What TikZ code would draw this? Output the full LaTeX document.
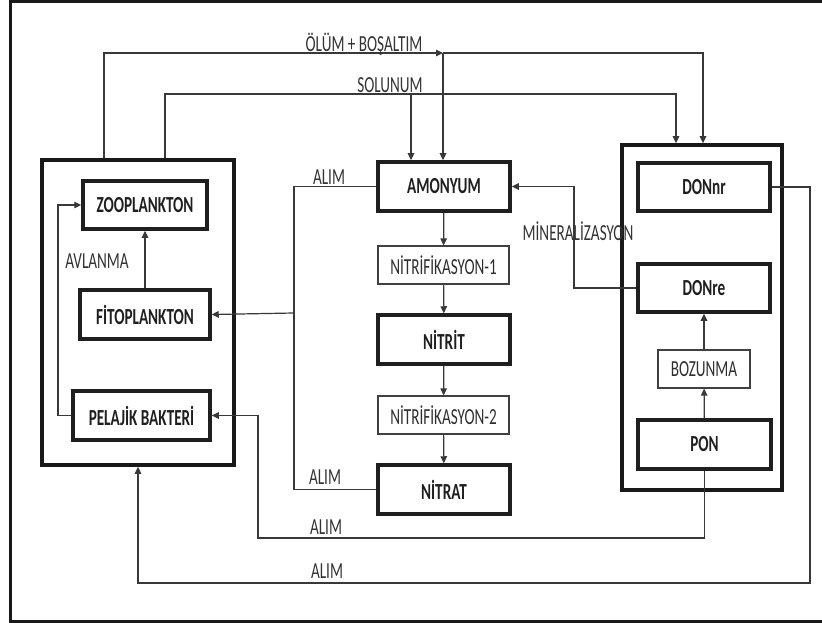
\documentclass[tikz,border=0pt]{standalone}
\usepackage{fontspec}
\setmainfont{Carlito}[FakeStretch=0.66]
\usetikzlibrary{arrows.meta,calc}
\begin{document}
\begin{tikzpicture}[x=1pt,y=-1pt,
  thickbox/.style={draw=black!88,line width=3.5pt,inner sep=0pt,font=\fontsize{23}{26}\selectfont\bfseries,text=black!88},
  thinbox/.style={draw=black!75,line width=1.1pt,inner sep=0pt,font=\fontsize{23}{26}\selectfont,text=black!82},
  grpbox/.style={draw=black!90,line width=3.5pt,inner sep=0pt},
  conn/.style={draw=black!78,line width=1.2pt},
  arr/.style={conn,-{Triangle[length=7pt,width=6.5pt]}},
  lbl/.style={font=\fontsize{23}{26}\selectfont,text=black!80,inner sep=0pt}]
\useasboundingbox (0,0) rectangle (822,623);
\draw[line width=3pt,draw=black!90] (10,2) rectangle (823,621);
% groups
\node[grpbox,minimum width=192pt,minimum height=305pt] (lgrp) at (138,312.5) {};
\node[grpbox,minimum width=160pt,minimum height=345pt] (dgrp) at (702,317.5) {};
% left boxes
\node[thickbox,minimum width=124pt,minimum height=48pt] (zoo) at (145,205) {ZOOPLANKTON};
\node[thickbox,minimum width=130pt,minimum height=49pt] (fito) at (145,314.5) {FİTOPLANKTON};
\node[thickbox,minimum width=137pt,minimum height=49pt] (pel) at (141.5,415.5) {PELAJİK BAKTERİ};
% centre chain
\node[thickbox,minimum width=132pt,minimum height=49pt] (amo) at (444,186.5) {AMONYUM};
\node[thinbox,minimum width=131pt,minimum height=38pt] (nit1) at (443.5,265) {NİTRİFİKASYON-1};
\node[thickbox,minimum width=132pt,minimum height=49pt] (nitrit) at (444,339.5) {NİTRİT};
\node[thinbox,minimum width=131pt,minimum height=38pt] (nit2) at (443.5,415) {NİTRİFİKASYON-2};
\node[thickbox,minimum width=132pt,minimum height=49pt] (nitrat) at (444,489.5) {NİTRAT};
% right boxes
\node[thickbox,minimum width=132pt,minimum height=48pt] (donnr) at (704,187) {DONnr};
\node[thickbox,minimum width=132pt,minimum height=48pt] (donre) at (704,288) {DONre};
\node[thinbox,minimum width=92pt,minimum height=38pt] (boz) at (704,369) {BOZUNMA};
\node[thickbox,minimum width=133pt,minimum height=49pt] (pon) at (704.5,444.5) {PON};
% helper coordinates
\coordinate (xo) at (104,0);
\coordinate (xs) at (165,0);
\coordinate (jo) at (443,53);
\coordinate (js) at (411,94);
\coordinate (ro) at (703,53);
\coordinate (rs) at (676,94);
\coordinate (xa) at (294,313);
\coordinate (xm) at (574,0);
\coordinate (xf) at (58,0);
\coordinate (p1) at (703,538);
\coordinate (p2) at (258,416);
\coordinate (q1) at (810,583);
% ÖLÜM + BOŞALTIM
\draw[arr] (lgrp.north -| xo) |- (jo);
\draw[arr] (jo) -- (ro) -- (dgrp.north -| ro);
\draw[arr] (jo) -- (amo.north -| jo);
% SOLUNUM
\draw[conn] (lgrp.north -| xs) |- (js);
\draw[arr] (js) -- (rs) -- (dgrp.north -| rs);
\draw[arr] (js) -- (amo.north -| js);
% ALIM from amonyum / nitrat
\draw[conn] (amo.west) -| (xa) |- (nitrat.west);
\draw[arr] (xa) -- (fito.east);
% ALIM from PON
\draw[arr] (pon.south) |- (p1 -| p2) |- (pel.east);
% ALIM from DONnr
\draw[arr] (donnr.east) -| (q1) -| (lgrp.south);
% MINERALIZASYON
\draw[arr] (donre.west) -| (amo.east -| xm) -- (amo.east);
% bacteria -> zooplankton
\draw[arr] (pel.west) -| (zoo.west -| xf) -- (zoo.west);
\draw[arr] (fito.north) -- (zoo.south);
% chain
\draw[arr] (amo) -- (nit1);
\draw[arr] (nit1) -- (nitrit);
\draw[arr] (nitrit) -- (nit2);
\draw[arr] (nit2) -- (nitrat);
\draw[arr] (pon) -- (boz);
\draw[arr] (boz) -- (donre);
% labels
\node[lbl] (lo) at (364,44) {ÖLÜM + BOŞALTIM};
\node[lbl] (ls) at (390,85) {SOLUNUM};
\node[lbl] (la1) at (329,177) {ALIM};
\node[lbl] (lav) at (97,261) {AVLANMA};
\node[lbl] (la2) at (325,477) {ALIM};
\node[lbl] (la3) at (326,527) {ALIM};
\node[lbl] (la4) at (327,571) {ALIM};
\node[lbl] (lmin) at (578,231) {MİNERALİZASYON};
\end{tikzpicture}
\end{document}
